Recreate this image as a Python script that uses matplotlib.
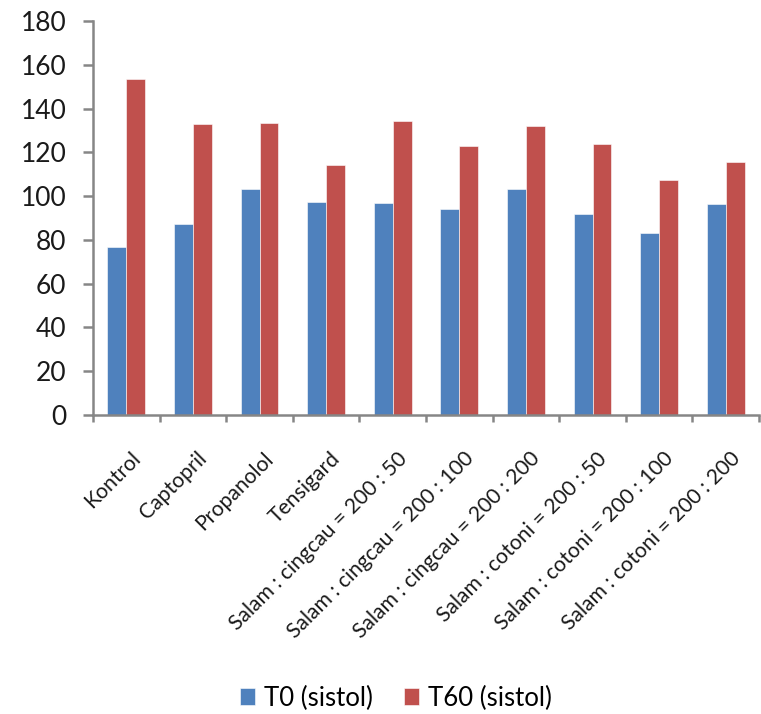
import matplotlib
matplotlib.use("Agg")
import matplotlib.pyplot as plt
import matplotlib.transforms as mtransforms
import numpy as np

plt.rcParams['font.family'] = ['Lato', 'DejaVu Sans']

groups = [
    "Kontrol",
    "Captopril",
    "Propanolol",
    "Tensigard",
    "Salam : cingcau = 200 : 50",
    "Salam : cingcau = 200 : 100",
    "Salam : cingcau = 200 : 200",
    "Salam : cotoni = 200 : 50",
    "Salam : cotoni = 200 : 100",
    "Salam : cotoni = 200 : 200",
]

# systolic pressure at T0 and T60
t0_sistol = [76.8, 87.1, 103.3, 97.1, 96.7, 94.2, 103.2, 91.8, 83.0, 96.5]
t60_sistol = [153.3, 132.9, 133.2, 114.3, 134.4, 123.1, 132.0, 123.6, 107.3, 115.5]

series_labels = ["T0 (sistol)", "T60 (sistol)"]
yticks = [0, 20, 40, 60, 80, 100, 120, 140, 160, 180]

blue = "#4F81BD"
red = "#C0504D"
axis_grey = "#868686"

fig = plt.figure(figsize=(7.61, 7.14), dpi=100)
ax = fig.add_axes([0.1222, 0.4188, 0.8752, 0.5518])

x = np.arange(len(groups))
w = 0.285
ax.bar(x - w / 2, t0_sistol, w, color=blue, edgecolor="white", linewidth=0.4, label=series_labels[0])
ax.bar(x + w / 2, t60_sistol, w, color=red, edgecolor="white", linewidth=0.4, label=series_labels[1])

ax.set_xlim(-0.5, len(groups) - 0.5)
ax.set_ylim(0, 180)
ax.set_yticks(yticks)

for side in ("top", "right"):
    ax.spines[side].set_visible(False)
for side in ("left", "bottom"):
    ax.spines[side].set_color(axis_grey)
    ax.spines[side].set_linewidth(1.8)

ax.tick_params(axis="y", direction="out", length=7, width=1.8, color=axis_grey,
               pad=12, labelsize=19, labelcolor="#1a1a1a")

# category labels at centres, tick marks between categories
ax.set_xticks(x)
ax.set_xticklabels(groups, rotation=45, ha="right", va="top", rotation_mode="anchor")
ax.set_xticks(np.arange(-0.5, len(groups)), minor=True)
ax.tick_params(axis="x", which="major", length=0, pad=24, labelsize=15.2, labelcolor="#1a1a1a")
ax.tick_params(axis="x", which="minor", direction="out", length=5, width=1.8, color=axis_grey)

shift = mtransforms.ScaledTranslation(4 / 100, 0, fig.dpi_scale_trans)
for lab in ax.get_xticklabels():
    lab.set_transform(lab.get_transform() + shift)

fig.legend(loc="center", bbox_to_anchor=(0.52, 0.022), ncol=2, frameon=False,
           fontsize=18.5, handlelength=0.6, handleheight=0.62, handletextpad=0.35,
           columnspacing=1.2)

fig.savefig("out.png", dpi=100)
